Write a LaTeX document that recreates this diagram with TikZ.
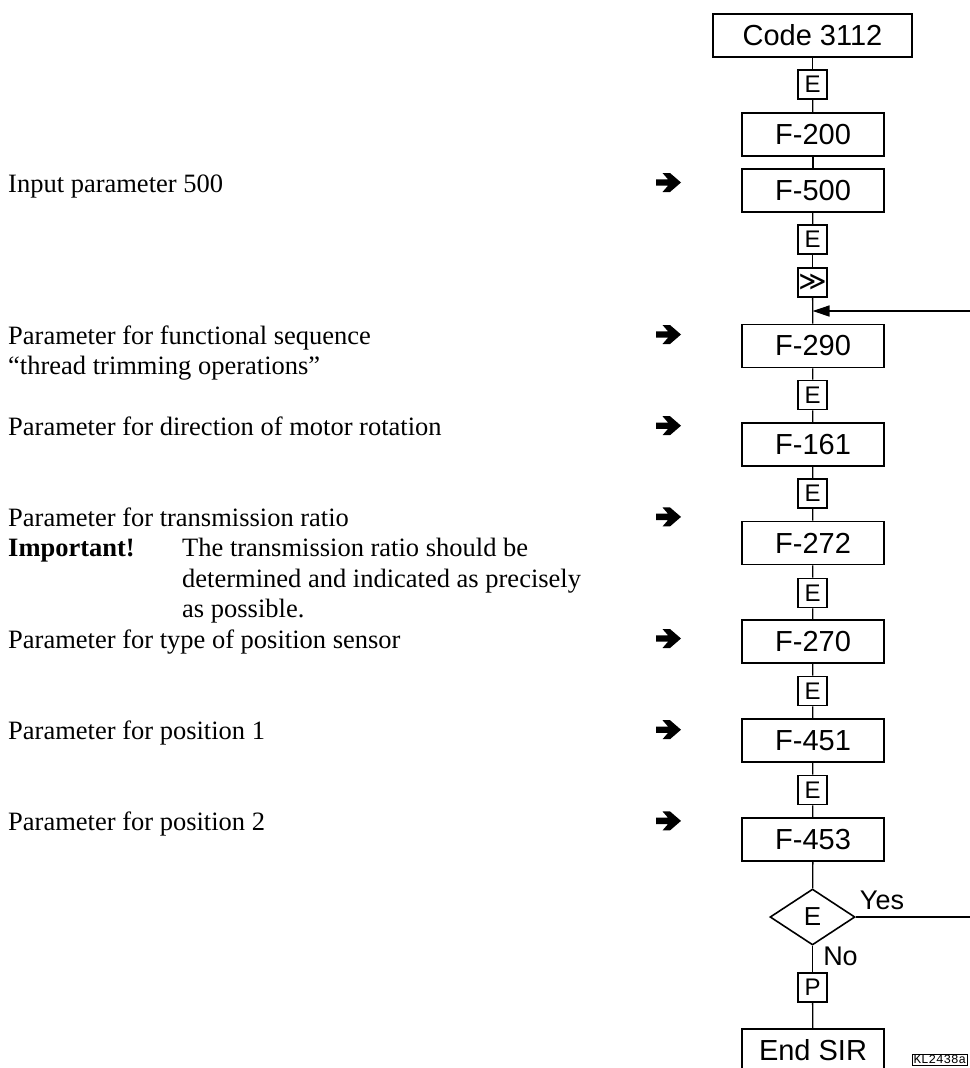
\documentclass[tikz,border=0pt]{standalone}
\usepackage{fontspec}
\setmainfont{Liberation Serif}
\newfontfamily\arialf{Liberation Sans}
\newfontfamily\dejavuf{DejaVu Sans}
\newfontfamily\monof{Liberation Mono}
\usetikzlibrary{shapes.geometric,arrows.meta}
\begin{document}
\begin{tikzpicture}[x=1pt,y=-1pt,
  bigbox/.style={draw, line width=1.6pt, minimum width=142pt, minimum height=43pt, inner sep=0pt, font=\arialf\fontsize{29}{32}\selectfont},
  ebox/.style={draw, line width=1.6pt, minimum width=29pt, minimum height=29pt, inner sep=0pt, font=\arialf\fontsize{24}{26}\selectfont},
  lefttxt/.style={anchor=base west, inner sep=0pt, font=\fontsize{26.5}{30}\selectfont},
  parrow/.style={minimum width=25pt, minimum height=19pt, inner sep=0pt,
    path picture={\fill[shift={(path picture bounding box.center)}]
      (-12.5,-3.2) -- (-0.5,-3.2) -- (-6,-9.5) -- (1.5,-9.5) -- (12.5,0) --
      (1.5,9.5) -- (-6,9.5) -- (-0.5,3.2) -- (-12.5,3.2) -- cycle;}},
  conn/.style={line width=1.3pt},
  lbl/.style={inner sep=0pt, font=\arialf\fontsize{27}{30}\selectfont}
]
\useasboundingbox (0,0) rectangle (969,1068);
\fill[white] (0,0) rectangle (969,1068);

% right column
\node[bigbox, minimum width=199pt] (code) at (812.5,35.5) {Code 3112};
\node[ebox] (e1) at (812.5,84.5) {E};
\node[bigbox] (f200) at (813,134.5) {F-200};
\node[bigbox] (f500) at (813,190.5) {F-500};
\node[ebox] (e2) at (812.5,239.5) {E};
\node[ebox, font=\dejavuf\fontsize{27}{30}\selectfont] (gg) at (812.5,282.5) {≫};
\coordinate (join) at (812.5,311);
\node[bigbox] (f290) at (813,346) {F-290};
\node[ebox] (e3) at (812.5,395) {E};
\node[bigbox] (f161) at (813,444.5) {F-161};
\node[ebox] (e4) at (812.5,493.5) {E};
\node[bigbox] (f272) at (813,543) {F-272};
\node[ebox] (e5) at (812.5,593) {E};
\node[bigbox] (f270) at (813,641.5) {F-270};
\node[ebox] (e6) at (812.5,691) {E};
\node[bigbox] (f451) at (813,740.5) {F-451};
\node[ebox] (e7) at (812.5,790) {E};
\node[bigbox] (f453) at (813,839.5) {F-453};
\node[diamond, draw, line width=1.6pt, minimum width=85pt, minimum height=56pt, inner sep=0pt, font=\arialf\fontsize{26}{28}\selectfont] (dia) at (812.5,917) {E};
\node[lbl] (yes) at (882,900.5) {Yes};
\node[lbl] (no) at (840.5,956.5) {No};
\node[ebox] (p) at (812.5,987.5) {P};
\node[bigbox] (end) at (813,1050.5) {End SIR};
\node[draw, line width=0.6pt, anchor=north west, inner sep=1.2pt, font=\monof\fontsize{12.5}{13}\selectfont] (kl) at (912,1054) {KL2438a};
\coordinate (far) at (990,917);

\draw[conn] (code) -- (e1);
\draw[conn] (e1) -- (f200);
\draw[conn] (f200) -- (f500);
\draw[conn] (f500) -- (e2);
\draw[conn] (e2) -- (gg);
\draw[conn] (gg) -- (f290);
\draw[conn] (f290) -- (e3);
\draw[conn] (e3) -- (f161);
\draw[conn] (f161) -- (e4);
\draw[conn] (e4) -- (f272);
\draw[conn] (f272) -- (e5);
\draw[conn] (e5) -- (f270);
\draw[conn] (f270) -- (e6);
\draw[conn] (e6) -- (f451);
\draw[conn] (f451) -- (e7);
\draw[conn] (e7) -- (f453);
\draw[conn] (f453) -- (dia);
\draw[conn] (dia) -- (p);
\draw[conn] (p) -- (end);
\draw[conn, -{Triangle[length=17pt,width=11pt]}] (dia.east) -- (far) |- (join);

% left texts
\node[lefttxt] (t1) at (8,192) {Input parameter 500};
\node[lefttxt] (t2) at (8,344) {Parameter for functional sequence};
\node[lefttxt] (t2b) at (8,374.4) {``thread trimming operations''};
\node[lefttxt] (t3) at (8,435.2) {Parameter for direction of motor rotation};
\node[lefttxt] (t4) at (8,526.4) {Parameter for transmission ratio};
\node[lefttxt] (t4a) at (8,556.8) {\textbf{Important!}};
\node[lefttxt] (t4b) at (182,556.8) {The transmission ratio should be};
\node[lefttxt] (t4c) at (182,587.2) {determined and indicated as precisely};
\node[lefttxt] (t4d) at (182,617.6) {as possible.};
\node[lefttxt] (t5) at (8,648) {Parameter for type of position sensor};
\node[lefttxt] (t6) at (8,739.2) {Parameter for position 1};
\node[lefttxt] (t7) at (8,830.4) {Parameter for position 2};

% arrows
\node[parrow] (a1) at (668.5,182.5) {};
\node[parrow] (a2) at (668.5,334.5) {};
\node[parrow] (a3) at (668.5,425.7) {};
\node[parrow] (a4) at (668.5,516.9) {};
\node[parrow] (a5) at (668.5,638.5) {};
\node[parrow] (a6) at (668.5,729.7) {};
\node[parrow] (a7) at (668.5,820.9) {};
\end{tikzpicture}
\end{document}
